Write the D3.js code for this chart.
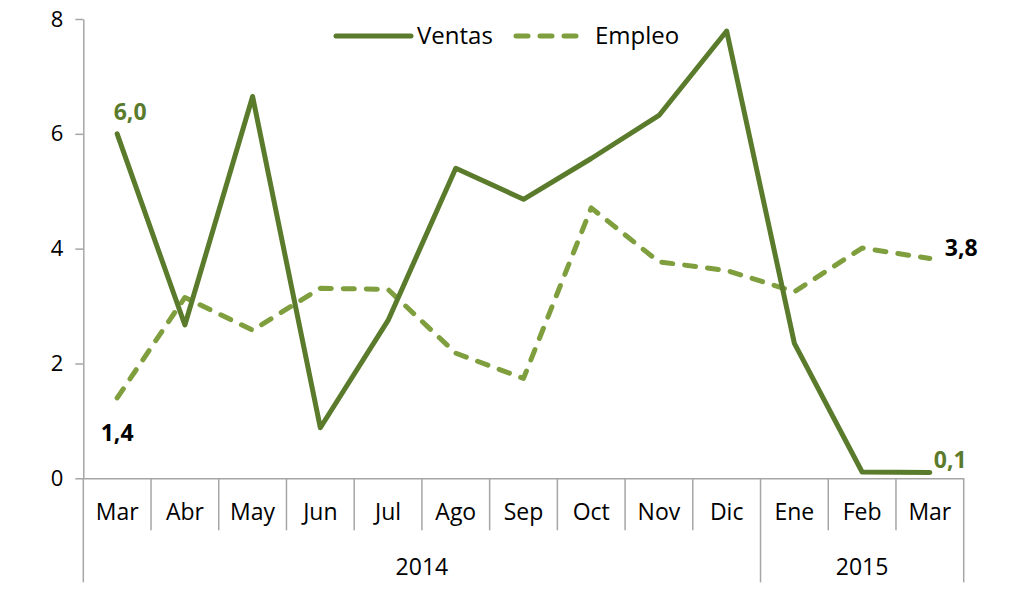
<!DOCTYPE html>
<html>
<head>
<meta charset="utf-8">
<script src="https://cdn.jsdelivr.net/npm/d3@7"></script>
<style>
  body { margin: 0; background: #fff; }
  text { font-family: "Open Sans", sans-serif; fill: #000; }
</style>
</head>
<body>
<div id="chart"></div>
<script>
// data
const months = ["Mar", "Abr", "May", "Jun", "Jul", "Ago", "Sep", "Oct", "Nov", "Dic", "Ene", "Feb", "Mar"];
const years = [
    { label: "2014", start: 0, end: 10 },
    { label: "2015", start: 10, end: 13 }
];
const ventas = [6.0, 2.67, 6.65, 0.88, 2.75, 5.4, 4.86, 5.57, 6.32, 7.79, 2.35, 0.11, 0.1];
const empleo = [1.4, 3.15, 2.58, 3.31, 3.29, 2.18, 1.74, 4.71, 3.77, 3.62, 3.25, 4.01, 3.83];
const yTicks = [0, 2, 4, 6, 8];

const width = 1024;
const height = 594;
const plotLeft = 83.3, plotRight = 963.7, plotTop = 19, plotBottom = 478.3;

const ventasColor = "#5b7b2c";
const empleoColor = "#7f9e3d";

const svg = d3.select("#chart")
    .append("svg")
    .attr("width", width)
    .attr("height", height);

const x = d3.scaleBand()
    .domain(d3.range(months.length))
    .range([plotLeft, plotRight]);

const y = d3.scaleLinear()
    .domain([0, 8])
    .range([plotBottom, plotTop]);

const cx = i => x(i) + x.bandwidth() / 2;

// y axis
const yAxis = svg.append("g")
    .attr("transform", `translate(${plotLeft},0)`)
    .call(d3.axisLeft(y).tickValues(yTicks).tickSize(8).tickSizeOuter(0).tickPadding(12));
yAxis.selectAll("path, line").attr("stroke", "#a6a6a6").attr("stroke-width", 1.5);
yAxis.selectAll("text").style("font-size", "22px").attr("fill", "#000");

// x axis (month labels)
const xAxis = svg.append("g")
    .attr("transform", `translate(0,${plotBottom})`)
    .call(d3.axisBottom(x).tickFormat(i => months[i]).tickSize(0).tickSizeOuter(0).tickPadding(25));
xAxis.select(".domain").attr("stroke", "#a6a6a6").attr("stroke-width", 1.5);
xAxis.selectAll("text").style("font-size", "23px").attr("fill", "#000");

// separators
const bounds = d3.range(months.length + 1).map(i => i < months.length ? x(i) : plotRight);
const yearBounds = new Set(years.flatMap(d => [d.start, d.end]));
svg.append("g")
    .selectAll("line")
    .data(bounds)
    .join("line")
    .attr("x1", d => d)
    .attr("x2", d => d)
    .attr("y1", plotBottom)
    .attr("y2", (d, i) => yearBounds.has(i) ? plotBottom + 104 : plotBottom + 52)
    .attr("stroke", "#a6a6a6")
    .attr("stroke-width", 1.5);

// year labels
svg.append("g")
    .selectAll("text")
    .data(years)
    .join("text")
    .attr("x", d => (bounds[d.start] + bounds[d.end]) / 2)
    .attr("y", plotBottom + 97)
    .attr("text-anchor", "middle")
    .style("font-size", "23px")
    .text(d => d.label);

// lines
const line = d3.line()
    .x((d, i) => cx(i))
    .y(d => y(d));

svg.append("path")
    .datum(empleo)
    .attr("d", line)
    .attr("fill", "none")
    .attr("stroke", empleoColor)
    .attr("stroke-width", 5)
    .attr("stroke-dasharray", "11,12")
    .attr("stroke-linecap", "round")
    .attr("stroke-linejoin", "round");

svg.append("path")
    .datum(ventas)
    .attr("d", line)
    .attr("fill", "none")
    .attr("stroke", ventasColor)
    .attr("stroke-width", 5)
    .attr("stroke-linecap", "round")
    .attr("stroke-linejoin", "round");

// data labels
const fmt = v => d3.format(".1f")(v).replace(".", ",");
const labels = [
    { values: ventas, i: 0, color: ventasColor, dx: 13, dy: -22, anchor: "middle" },
    { values: empleo, i: 0, color: "#000", dx: 0, dy: 35, anchor: "middle" },
    { values: empleo, i: 12, color: "#000", dx: 15, dy: -10, anchor: "start" },
    { values: ventas, i: 12, color: ventasColor, dx: 4, dy: -13, anchor: "start" }
];
svg.append("g")
    .selectAll("text")
    .data(labels)
    .join("text")
    .attr("x", d => cx(d.i) + d.dx)
    .attr("y", d => y(d.values[d.i]) + d.dy)
    .attr("dy", "0.35em")
    .attr("text-anchor", d => d.anchor)
    .style("fill", d => d.color)
    .style("font-size", "23px")
    .style("font-weight", "bold")
    .text(d => fmt(d.values[d.i]));

// legend
const legend = svg.append("g").attr("transform", "translate(336,36)");
legend.append("line")
    .attr("x1", 0).attr("x2", 75)
    .attr("stroke", ventasColor).attr("stroke-width", 5).attr("stroke-linecap", "round");
legend.append("text")
    .attr("x", 81).attr("dy", "0.35em")
    .style("font-size", "24px")
    .text("Ventas");
legend.append("line")
    .attr("x1", 180).attr("x2", 242)
    .attr("stroke", empleoColor).attr("stroke-width", 5)
    .attr("stroke-linecap", "round").attr("stroke-dasharray", "12,12");
legend.append("text")
    .attr("x", 259).attr("dy", "0.35em")
    .style("font-size", "24px")
    .text("Empleo");
</script>
</body>
</html>
